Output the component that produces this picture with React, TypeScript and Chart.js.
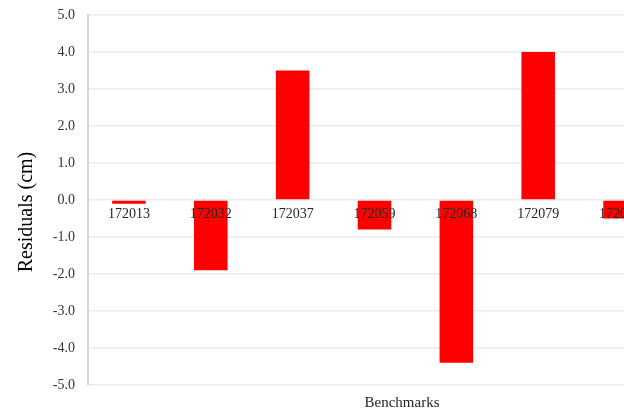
import React, { useEffect, useRef } from "react";
import { Chart, registerables } from "chart.js";

Chart.register(...registerables);

const categories = ["172013", "172032", "172037", "172059", "172068", "172079", "172086"];
const residuals = [-0.1, -1.9, 3.5, -0.8, -4.4, 4.0, -0.5];
const yMin = -5;
const yMax = 5;
const yStep = 1;
const xTitle = "Benchmarks";
const yTitle = "Residuals (cm)";

const FONT = "'Liberation Serif', 'Times New Roman', serif";

const titlesPlugin = {
  id: "titlesPlugin",
  afterDraw(chart: any) {
    const ctx = chart.ctx;
    const area = chart.chartArea;
    ctx.save();
    ctx.font = `15px ${FONT}`;
    ctx.fillStyle = "#262626";
    ctx.textAlign = "center";
    ctx.textBaseline = "middle";
    ctx.fillText(xTitle, area.left + 314, 403);
    ctx.restore();

    ctx.save();
    ctx.font = `20px ${FONT}`;
    ctx.fillStyle = "#000000";
    ctx.textAlign = "center";
    ctx.textBaseline = "middle";
    ctx.translate(27, (area.top + area.bottom) / 2 + 12);
    ctx.rotate(-Math.PI / 2);
    ctx.fillText(yTitle, 0, 0);
    ctx.restore();
  },
};

export default function App() {
  const ref = useRef<HTMLCanvasElement | null>(null);

  useEffect(() => {
    if (!ref.current) return;
    const chart = new Chart(ref.current, {
      type: "bar",
      data: {
        labels: categories,
        datasets: [
          {
            data: residuals,
            backgroundColor: "#ff0000",
            borderWidth: 0,
            barPercentage: 0.41,
            categoryPercentage: 1,
          },
        ],
      },
      options: {
        responsive: false,
        animation: false,
        layout: { padding: { left: 0, right: 19, top: 15, bottom: 28 } },
        plugins: {
          legend: { display: false },
          tooltip: { enabled: false },
        },
        scales: {
          x: {
            position: { y: 0 } as any,
            grid: { display: false, drawTicks: false },
            border: { display: false },
            ticks: {
              z: 1,
              color: "#262626",
              font: { family: FONT, size: 14 },
              padding: 6,
              maxRotation: 0,
              autoSkip: false,
            },
          },
          y: {
            min: yMin,
            max: yMax,
            afterFit(scale: any) {
              scale.width = 88;
              scale.paddingTop = 8;
              scale.paddingBottom = 8;
            },
            ticks: {
              stepSize: yStep,
              color: "#333333",
              font: { family: FONT, size: 14 },
              padding: 13,
              callback: (v: any) => Number(v).toFixed(1),
            },
            grid: { color: "#ebebeb", lineWidth: 1.5, drawTicks: false },
            border: { display: true, color: "#d6d6d6", width: 2 },
          },
        },
      },
      plugins: [titlesPlugin],
    });
    return () => chart.destroy();
  }, []);

  return (
    <div
      style={{
        position: "fixed",
        left: 0,
        top: 0,
        width: 624,
        height: 413,
        overflow: "hidden",
        background: "#ffffff",
      }}
    >
      <canvas ref={ref} width={680} height={413} style={{ width: 680, height: 413, display: "block" }} />
    </div>
  );
}
